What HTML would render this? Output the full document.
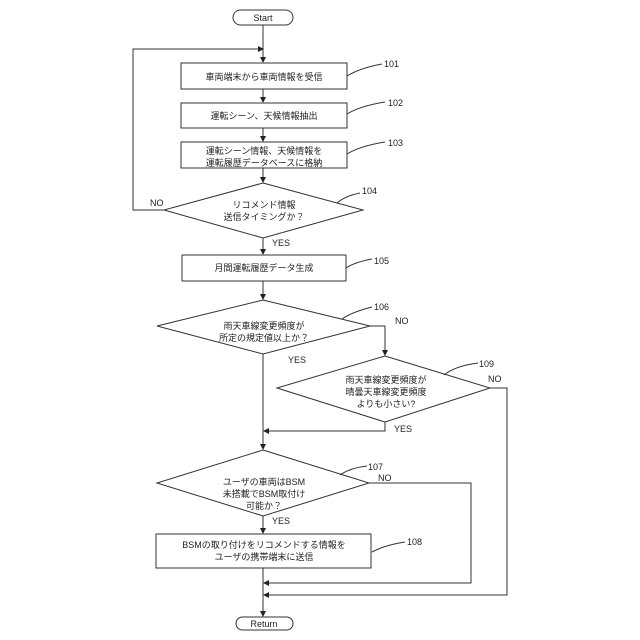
<!DOCTYPE html>
<html><head><meta charset="utf-8"><style>
html,body{margin:0;padding:0;background:#fff;}
svg{display:block;}
text{font-family:"Liberation Sans","Noto Sans CJK JP",sans-serif;font-size:9px;fill:#222;}
.j{text-anchor:middle;}
</style></head><body>
<svg width="640" height="640" viewBox="0 0 640 640" xmlns="http://www.w3.org/2000/svg">
<defs><marker id="a" markerWidth="6" markerHeight="6" refX="5" refY="3" orient="auto" markerUnits="userSpaceOnUse"><path d="M0,0 L6,3 L0,6 z" fill="#222"/></marker></defs>
<g stroke="#333" stroke-width="1" fill="none">
<rect x="233" y="10" width="60" height="15" rx="7.5"/>
<rect x="181" y="63" width="166" height="26"/>
<rect x="181" y="103" width="166" height="25"/>
<rect x="181" y="142" width="166" height="26"/>
<polygon points="263,183 363,210 263,238 164,210"/>
<rect x="182" y="255" width="164" height="26"/>
<polygon points="263,300 370,326 263,354 157,326"/>
<polygon points="385,356 490,388 385,422 277,388"/>
<polygon points="263,450 369,483 263,516 157,483"/>
<rect x="156" y="534" width="215" height="34"/>
<rect x="236" y="617" width="57" height="13" rx="6.5"/>
<line x1="263" y1="25" x2="263" y2="62" marker-end="url(#a)"/>
<polyline points="164,210 133,210 133,49 263,49" marker-end="url(#a)"/>
<line x1="263" y1="89" x2="263" y2="102" marker-end="url(#a)"/>
<line x1="263" y1="128" x2="263" y2="141" marker-end="url(#a)"/>
<line x1="263" y1="168" x2="263" y2="182" marker-end="url(#a)"/>
<line x1="263" y1="238" x2="263" y2="254" marker-end="url(#a)"/>
<line x1="263" y1="281" x2="263" y2="299" marker-end="url(#a)"/>
<polyline points="370,326 385,326 385,355" marker-end="url(#a)"/>
<line x1="263" y1="354" x2="263" y2="449" marker-end="url(#a)"/>
<polyline points="385,422 385,431 264,431" marker-end="url(#a)"/>
<line x1="263" y1="516" x2="263" y2="533" marker-end="url(#a)"/>
<line x1="263" y1="568" x2="263" y2="616" marker-end="url(#a)"/>
<polyline points="369,483 471,483 471,583 264,583" marker-end="url(#a)"/>
<polyline points="490,388 507,388 507,595 264,595" marker-end="url(#a)"/>
<path d="M347,76 Q360,68 382,64"/>
<path d="M347,114 Q360,106 385,102"/>
<path d="M347,154 Q360,146 385,142"/>
<path d="M337,203 Q345,196 360,193"/>
<path d="M346,268 Q355,262 372,259"/>
<path d="M342,319 Q352,312 372,307"/>
<path d="M444,375 Q455,366 478,363"/>
<path d="M340,475 Q350,468 367,466"/>
<path d="M372,552 Q385,545 405,542"/>
</g>
<g>
<text x="263" y="21" class="j">Start</text>
<text x="264" y="80" class="j">車両端末から車両情報を受信</text>
<text x="264" y="119" class="j">運転シーン、天候情報抽出</text>
<text x="264" y="154" class="j">運転シーン情報、天候情報を</text>
<text x="264" y="166" class="j">運転履歴データベースに格納</text>
<text x="264" y="208" class="j">リコメンド情報</text>
<text x="264" y="220" class="j">送信タイミングか？</text>
<text x="264" y="271" class="j">月間運転履歴データ生成</text>
<text x="264" y="329" class="j">雨天車線変更頻度が</text>
<text x="264" y="341" class="j">所定の規定値以上か？</text>
<text x="386" y="383" class="j">雨天車線変更頻度が</text>
<text x="386" y="395" class="j">晴曇天車線変更頻度</text>
<text x="386" y="407" class="j">よりも小さい?</text>
<text x="264" y="485" class="j">ユーザの車両はBSM</text>
<text x="264" y="497" class="j">未搭載でBSM取付け</text>
<text x="264" y="509" class="j">可能か？</text>
<text x="264" y="548" class="j">BSMの取り付けをリコメンドする情報を</text>
<text x="264" y="560" class="j">ユーザの携帯端末に送信</text>
<text x="264" y="627" class="j">Return</text>
<text x="150" y="206">NO</text>
<text x="272" y="246">YES</text>
<text x="395" y="324">NO</text>
<text x="288" y="363">YES</text>
<text x="488" y="382">NO</text>
<text x="394" y="432">YES</text>
<text x="378" y="481">NO</text>
<text x="272" y="524">YES</text>
<text x="384" y="67">101</text>
<text x="388" y="106">102</text>
<text x="388" y="146">103</text>
<text x="362" y="194">104</text>
<text x="374" y="264">105</text>
<text x="374" y="310">106</text>
<text x="479" y="367">109</text>
<text x="368" y="470">107</text>
<text x="407" y="545">108</text>
</g>
</svg>
</body></html>
